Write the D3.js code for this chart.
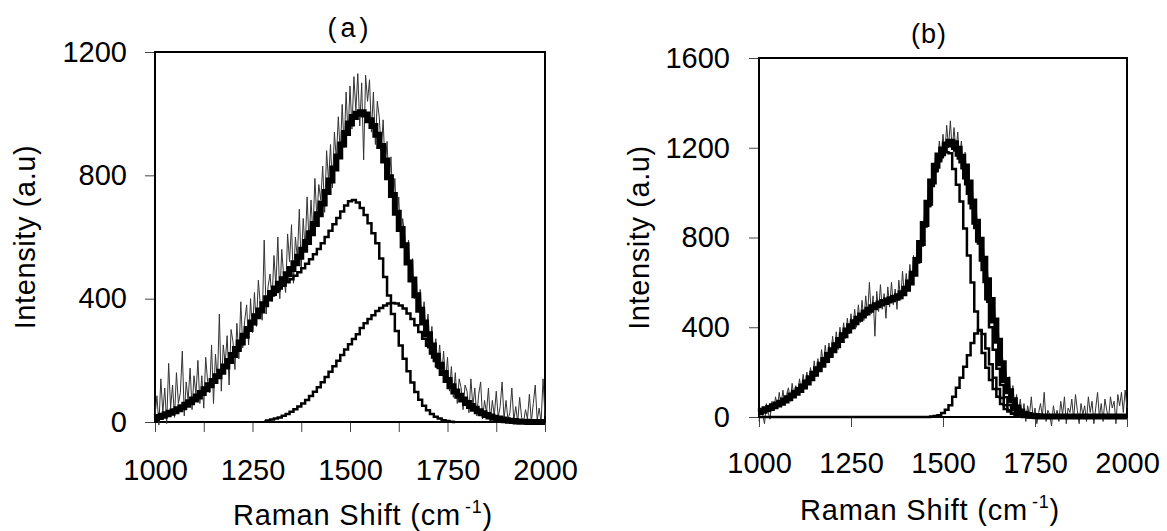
<!DOCTYPE html>
<html>
<head>
<meta charset="utf-8">
<script src="https://cdn.jsdelivr.net/npm/d3@7/dist/d3.min.js"></script>
<style>
  body { margin: 0; background: #fff; }
  svg text { font-family: "Liberation Sans", Arial, sans-serif; fill: #000; }
</style>
</head>
<body>
<svg id="chart" width="1167" height="531"></svg>
<script>
'use strict';

// Raman shift grid: fits every 10 cm-1, raw spectrum every 5 cm-1
var shiftStart = 1000;
var fitStep = 10;
var rawStep = 5;

var xTickLabels = [1000, 1250, 1500, 1750, 2000];
var xTicksA = [1000, 1125, 1250, 1375, 1500, 1625, 1750, 1875, 2000];
var xTicksB = [1000, 1250, 1500, 1750, 2000];
var yTicksA = [0, 400, 800, 1200];
var yTicksB = [0, 400, 800, 1200, 1600];

// ---- panel (a) ----
var rawA = [
  20, 85, -10, 140, 30, 110, -5, 190, 45, 120,
  15, 160, 60, 95, 230, 20, 130, 70, 175, 40,
  150, 90, 200, 60, 150, 45, 210, 130, 95, 250,
  60, 220, 130, 350, 100, 250, 190, 280, 120, 300,
  260, 170, 320, 205, 390, 240, 330, 380, 250, 400,
  290, 420, 310, 460, 380, 330, 590, 350, 440, 480,
  390, 540, 440, 600, 400, 560, 470, 420, 610, 520,
  640, 450, 600, 530, 690, 500, 660, 560, 730, 580,
  720, 610, 790, 660, 770, 720, 830, 680, 880, 780,
  900, 760, 940, 850, 990, 870, 1030, 890, 1070, 930,
  1090, 950, 1120, 1010, 1130, 960, 1100, 850, 1125, 1040,
  1110, 940, 1070, 900, 1040, 990, 880, 980, 820, 910,
  760, 860, 700, 790, 640, 730, 580, 660, 610, 540,
  590, 470, 530, 400, 470, 360, 430, 330, 390, 290,
  350, 250, 310, 210, 270, 180, 250, 150, 230, 130,
  210, 100, 180, 80, 160, 60, 140, 110, 40, 120,
  100, 30, 140, 50, 110, 20, 90, 130, 10, 70,
  30, 110, 5, 70, 20, 100, 15, 50, 130, 10,
  70, 8, 30, 110, 5, 50, 0, 80, 15, 0,
  40, 10, 90, 0, 60, 120, 5, 45, 0, 140,
  20
];

var thickA = [
  12, 16, 20, 25, 30, 35, 41, 48, 56, 64,
  73, 83, 94, 106, 119, 133, 148, 163, 180, 198,
  217, 237, 258, 280, 302, 323, 343, 362, 382, 401,
  418, 433, 448, 463, 479, 496, 515, 536, 559, 584,
  612, 642, 674, 709, 746, 783, 822, 861, 900, 937,
  968, 989, 1000, 1005, 997, 979, 960, 932, 895, 848,
  794, 736, 679, 626, 573, 517, 462, 411, 364, 323,
  285, 248, 215, 186, 159, 136, 116, 99, 85, 73,
  62, 52, 43, 35, 28, 23, 18, 14, 11, 8,
  6, 4, 3, 2, 1, 1, 0, 0, 0, 0,
  0
];

var peak1A = [
  12, 16, 20, 25, 30, 35, 41, 48, 56, 64,
  73, 83, 94, 106, 119, 133, 148, 163, 180, 198,
  217, 237, 258, 280, 302, 323, 343, 362, 380, 396,
  410, 422, 433, 443, 453, 463, 474, 486, 499, 513,
  528, 544, 561, 580, 600, 620, 641, 662, 683, 702,
  716, 720, 712, 694, 671, 645, 612, 580, 530, 470,
  410, 350, 295, 248, 205, 165, 128, 97, 72, 53,
  38, 26, 17, 11, 6, 3, 1, 0, null, null,
  null, null, null, null, null, null, null, null, null, null,
  null, null, null, null, null, null, null, null, null, null,
  null
];

var peak2A = [
  null, null, null, null, null, null, null, null, null, null,
  null, null, null, null, null, null, null, null, null, null,
  null, null, null, null, null, null, null, null, 2, 5,
  8, 11, 15, 20, 26, 33, 41, 50, 60, 71,
  84, 98, 113, 129, 146, 163, 181, 199, 217, 235,
  252, 269, 285, 305, 320, 334, 346, 360, 370, 378,
  384, 386, 384, 378, 368, 352, 334, 314, 292, 270,
  247, 222, 198, 175, 153, 133, 115, 99, 85, 73,
  62, 52, 43, 35, 28, 23, 18, 14, 11, 8,
  6, 4, 3, 2, 1, 1, 0, 0, 0, 0,
  0
];

// ---- panel (b) ----
var rawB = [
  -20, 40, 10, -30, 60, 20, -10, 70, 30, 90,
  40, 110, 50, 120, 60, 100, 130, 70, 150, 90,
  140, 100, 170, 120, 190, 130, 200, 150, 220, 160,
  250, 180, 260, 210, 300, 230, 320, 240, 330, 270,
  360, 290, 380, 300, 400, 330, 420, 350, 440, 370,
  460, 390, 480, 400, 500, 420, 520, 430, 540, 450,
  600, 460, 540, 360, 560, 470, 590, 480, 550, 440,
  580, 490, 600, 500, 570, 480, 610, 520, 650, 540,
  640, 560, 680, 590, 720, 650, 780, 710, 820, 790,
  920, 880, 1010, 940, 1100, 1060, 1170, 1110, 1230, 1150,
  1260, 1170, 1300, 1200, 1320, 1190, 1290, 1180, 1270, 1150,
  1230, 1110, 1180, 1060, 1110, 980, 1020, 900, 940, 810,
  850, 730, 760, 640, 680, 550, 580, 460, 490, 370,
  400, 280, 310, 190, 230, 120, 180, 90, 140, 40,
  100, 20, 80, 0, 60, -20, 50, 10, 90, -10,
  40, -30, 20, 60, 0, 110, -20, 30, 10, -40,
  50, 0, 30, -20, 70, 10, 90, -30, 40, 20,
  80, -10, 100, 30, -30, 60, 10, 50, -20, 90,
  20, 70, -30, 40, 110, 0, 60, -20, 80, 30,
  -10, 90, 40, 70, -30, 100, 50, 110, 20, 120,
  40
];

var thickB = [
  22, 28, 34, 40, 48, 56, 64, 74, 84, 96,
  108, 120, 136, 154, 173, 193, 213, 233, 254, 276,
  298, 320, 343, 364, 385, 404, 422, 438, 452, 466,
  478, 489, 498, 506, 513, 519, 525, 531, 538, 552,
  572, 600, 638, 700, 775, 860, 955, 1050, 1120, 1165,
  1192, 1215, 1227, 1220, 1195, 1160, 1116, 1045, 960, 870,
  790, 705, 610, 521, 430, 340, 240, 165, 115, 75,
  42, 25, 14, 9, 6, 4, 3, 2, 2, 2,
  2, 2, 2, 2, 2, 2, 2, 2, 2, 2,
  2, 2, 2, 2, 2, 2, 2, 2, 2, 2,
  2
];

var fitB = [
  22, 28, 34, 40, 48, 56, 64, 74, 84, 96,
  108, 120, 136, 154, 173, 193, 213, 233, 254, 276,
  298, 320, 343, 364, 385, 404, 422, 438, 452, 466,
  478, 489, 498, 506, 513, 519, 525, 531, 538, 550,
  570, 598, 635, 690, 765, 850, 940, 1032, 1099, 1148,
  1186, 1212, 1227, 1195, 1165, 1135, 1064, 995, 930, 842,
  773, 655, 525, 400, 300, 215, 143, 88, 54, 31,
  16, 8, 3, 1, 0, 0, 0, 0, 0, 0,
  0, 0, 0, 0, 0, 0, 0, 0, 0, 0,
  0, 0, 0, 0, 0, 0, 0, 0, 0, 0,
  0
];

var peak1B = [
  22, 28, 34, 40, 48, 56, 64, 74, 84, 96,
  108, 120, 136, 154, 173, 193, 213, 233, 254, 276,
  298, 320, 343, 364, 385, 404, 422, 438, 452, 466,
  478, 489, 498, 506, 513, 519, 525, 531, 538, 550,
  570, 598, 635, 690, 765, 850, 940, 1030, 1095, 1140,
  1168, 1180, 1175, 1105, 1035, 960, 840, 720, 600, 470,
  385, 285, 220, 165, 125, 90, 58, 36, 24, 16,
  10, 6, 3, 1, 0, 0, 0, 0, 0, 0,
  0, 0, 0, 0, 0, 0, 0, 0, 0, 0,
  0, 0, 0, 0, 0, 0, 0, 0, 0, 0,
  0
];

var peak2B = [
  0, 0, 0, 0, 0, 0, 0, 0, 0, 0,
  0, 0, 0, 0, 0, 0, 0, 0, 0, 0,
  0, 0, 0, 0, 0, 0, 0, 0, 0, 0,
  0, 0, 0, 0, 0, 0, 0, 0, 0, 0,
  0, 0, 0, 0, 0, 0, 0, 2, 4, 8,
  18, 32, 52, 90, 130, 175, 224, 275, 330, 372,
  388, 370, 305, 235, 175, 125, 85, 52, 30, 15,
  6, 2, 0, 0, 0, 0, 0, 0, 0, 0,
  0, 0, 0, 0, 0, 0, 0, 0, 0, 0,
  0, 0, 0, 0, 0, 0, 0, 0, 0, 0,
  0
];

var toPoints = function (values, step) {
  return values.map(function (v, i) {
    return { x: shiftStart + i * step, y: v };
  });
};

var svg = d3.select('#chart');

function drawPanel(cfg) {
  var x = d3.scaleLinear().domain([1000, 2000]).range([cfg.left, cfg.right]);
  var y = d3.scaleLinear().domain([0, cfg.yMax]).range([cfg.bottom, cfg.top]);
  var g = svg.append('g');

  // axes (ticks + labels)
  var xAxis = d3.axisBottom(x)
    .tickValues(cfg.xTicks)
    .tickSize(10)
    .tickSizeOuter(0)
    .tickPadding(cfg.xPad)
    .tickFormat(function (d) { return xTickLabels.indexOf(d) >= 0 ? d : ''; });
  var yAxis = d3.axisLeft(y)
    .tickValues(cfg.yTicks)
    .tickSize(10)
    .tickSizeOuter(0)
    .tickPadding(cfg.yPad)
    .tickFormat(d3.format('d'));

  var gx = g.append('g').attr('transform', 'translate(0,' + cfg.bottom + ')').call(xAxis);
  var gy = g.append('g').attr('transform', 'translate(' + cfg.left + ',0)').call(yAxis);
  [gx, gy].forEach(function (ax) {
    ax.select('.domain').remove();
    ax.selectAll('.tick line').attr('stroke', '#444').attr('stroke-width', 1);
    ax.selectAll('.tick text')
      .attr('fill', '#000')
      .style('font-size', '29px')
      .style('font-family', '"Liberation Sans", Arial, sans-serif');
  });

  // frame
  g.append('rect')
    .attr('x', cfg.left)
    .attr('y', cfg.top)
    .attr('width', cfg.right - cfg.left)
    .attr('height', cfg.bottom - cfg.top)
    .attr('fill', 'none')
    .attr('stroke', '#000')
    .attr('stroke-width', 2);

  // raw spectrum
  var rawLine = d3.line()
    .x(function (d) { return x(d.x); })
    .y(function (d) { return y(d.y); });
  g.append('path')
    .datum(toPoints(cfg.raw, rawStep))
    .attr('d', rawLine)
    .attr('fill', 'none')
    .attr('stroke', '#333')
    .attr('stroke-width', 1);

  var stepLine = d3.line()
    .defined(function (d) { return d.y !== null; })
    .curve(d3.curveStep)
    .x(function (d) { return x(d.x); })
    .y(function (d) { return y(d.y); });

  // smoothed spectrum (thick)
  g.append('path')
    .datum(toPoints(cfg.thick, fitStep))
    .attr('d', stepLine)
    .attr('fill', 'none')
    .attr('stroke', '#000')
    .attr('stroke-width', 6);

  // fitted components
  cfg.fits.forEach(function (f) {
    g.append('path')
      .datum(toPoints(f, fitStep))
      .attr('d', stepLine)
      .attr('fill', 'none')
      .attr('stroke', '#000')
      .attr('stroke-width', 2.5);
  });

  // titles
  g.append('text')
    .attr('x', cfg.titleX)
    .attr('y', cfg.titleY)
    .attr('text-anchor', 'middle')
    .style('font-size', '27px')
    .style('letter-spacing', cfg.titleSpacing + 'px')
    .text(cfg.title);

  var xt = g.append('text')
    .attr('x', cfg.xTitleX)
    .attr('y', cfg.xTitleY)
    .attr('text-anchor', 'middle')
    .style('font-size', '29px')
    .style('letter-spacing', '0.8px');
  xt.append('tspan').text('Raman Shift (cm');
  xt.append('tspan').attr('dx', 4).attr('dy', -12).style('font-size', '18px').text('-1');
  xt.append('tspan').attr('dy', 12).text(')');

  g.append('text')
    .attr('transform', 'translate(' + cfg.yTitleX + ',' + ((cfg.top + cfg.bottom) / 2) + ') rotate(-90)')
    .attr('text-anchor', 'middle')
    .style('font-size', '29px')
    .style('letter-spacing', '0.6px')
    .text('Intensity (a.u)');
}

drawPanel({
  left: 155, right: 545, top: 52, bottom: 422, yMax: 1200,
  xTicks: xTicksA, yTicks: yTicksA, xPad: 27, yPad: 18,
  raw: rawA, thick: thickA, fits: [peak1A, peak2A],
  title: '(a)', titleX: 350, titleY: 37, titleSpacing: 4,
  xTitleX: 363, xTitleY: 525, yTitleX: 35
});

drawPanel({
  left: 759, right: 1127, top: 58, bottom: 417, yMax: 1600,
  xTicks: xTicksB, yTicks: yTicksB, xPad: 25, yPad: 19,
  raw: rawB, thick: thickB, fits: [fitB, peak1B, peak2B],
  title: '(b)', titleX: 929, titleY: 43, titleSpacing: 1,
  xTitleX: 930, xTitleY: 520, yTitleX: 649
});
</script>
</body>
</html>
